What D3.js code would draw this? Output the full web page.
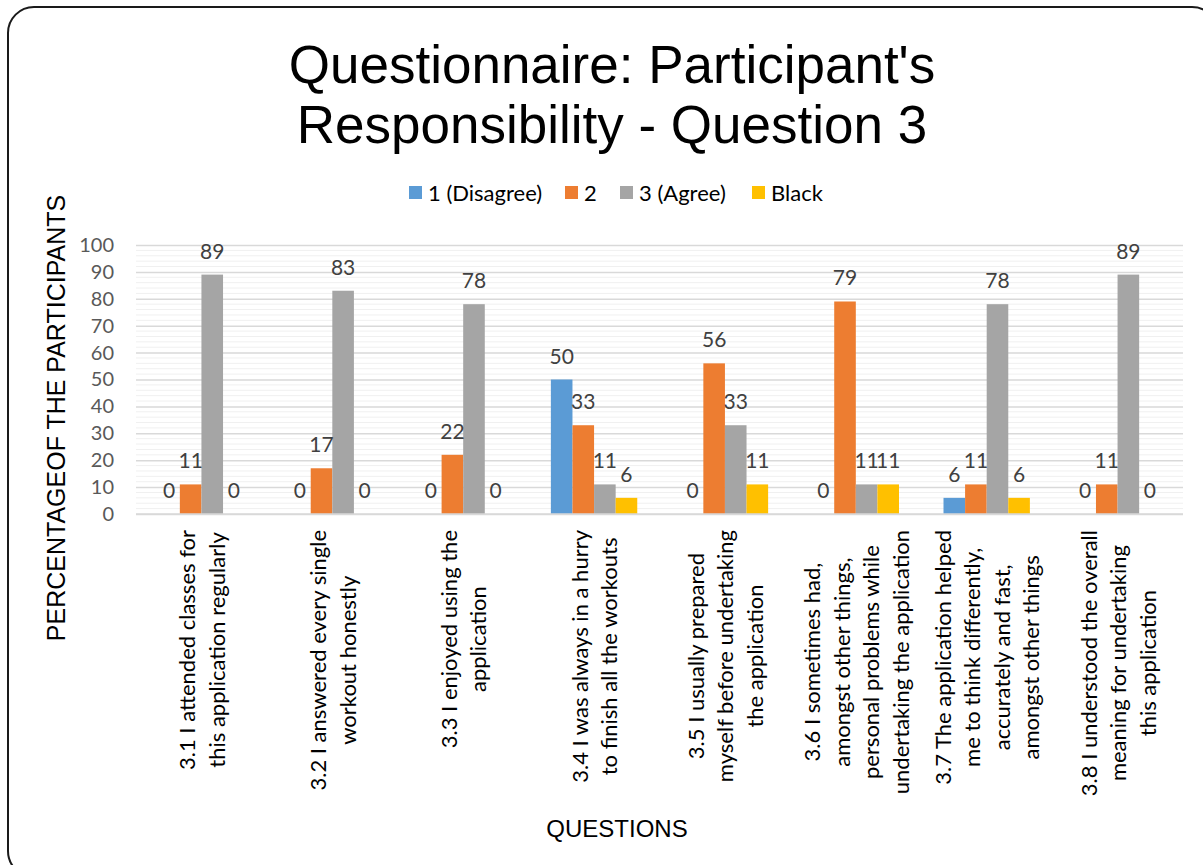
<!DOCTYPE html>
<html>
<head>
<meta charset="utf-8">
<script src="https://cdn.jsdelivr.net/npm/d3@7"></script>
<style>
  html, body { margin: 0; padding: 0; background: #ffffff; }
  svg { display: block; }
</style>
</head>
<body>
<svg id="chart" width="1203" height="865"></svg>
<script>
// ---- data ----
const categories = [
  ["3.1 I attended classes for", "this application regularly"],
  ["3.2 I answered every single", "workout honestly"],
  ["3.3 I enjoyed using the", "application"],
  ["3.4 I was always in a hurry", "to finish all the workouts"],
  ["3.5 I usually prepared", "myself before undertaking", "the application"],
  ["3.6 I sometimes had,", "amongst other things,", "personal problems while", "undertaking the application"],
  ["3.7 The application helped", "me to think differently,", "accurately and fast,", "amongst other things"],
  ["3.8 I understood the overall", "meaning for undertaking", "this application"]
];
const seriesNames = ["1 (Disagree)", "2", "3 (Agree)", "Black"];
const disagree = [0, 0, 0, 50, 0, 0, 6, 0];
const two      = [11, 17, 22, 33, 56, 79, 11, 11];
const agree    = [89, 83, 78, 11, 33, 11, 78, 89];
const black    = [0, 0, 0, 6, 11, 11, 6, 0];
const yTicks = [0, 10, 20, 30, 40, 50, 60, 70, 80, 90, 100];
const titleLines = ["Questionnaire: Participant's", "Responsibility - Question 3"];
const yTitle = "PERCENTAGEOF THE PARTICIPANTS";
const xTitle = "QUESTIONS";

const colors = ["#5b9bd5", "#ed7d31", "#a5a5a5", "#ffc000"];
const seriesValues = [disagree, two, agree, black];

const svg = d3.select("#chart");
const labelFont = "Lato, 'Open Sans', sans-serif";
const arialFont = "'Liberation Sans', Arial, sans-serif";

// outer border
svg.append("rect")
  .attr("x", 8).attr("y", 7).attr("width", 1210).attr("height", 870)
  .attr("rx", 26).attr("ry", 26)
  .attr("fill", "#ffffff").attr("stroke", "#1a1a1a").attr("stroke-width", 2);

// title
svg.append("g").selectAll("text").data(titleLines).join("text")
  .attr("x", 612).attr("y", (d, i) => 83 + i * 60)
  .attr("text-anchor", "middle")
  .attr("font-family", arialFont).attr("font-size", 53)
  .attr("fill", "#000000")
  .text(d => d);

// scales
const plotLeft = 136, plotRight = 1183;
const y = d3.scaleLinear().domain([0, 100]).range([514, 245]);
const x0 = d3.scaleBand().domain(d3.range(categories.length)).range([plotLeft, plotRight]).paddingInner(0.34).paddingOuter(0.17);
const x1 = d3.scaleBand().domain(d3.range(seriesNames.length)).range([0, x0.bandwidth()]);

// minor gridlines
const minor = d3.range(0, 101, 2).filter(v => v % 10 !== 0);
svg.append("g").selectAll("line").data(minor).join("line")
  .attr("x1", plotLeft).attr("x2", plotRight)
  .attr("y1", d => y(d)).attr("y2", d => y(d))
  .attr("stroke", "#f0f0f0").attr("stroke-width", 1);

// major gridlines via axis
const yAxisGrid = d3.axisLeft(y).tickValues(yTicks).tickSize(-(plotRight - plotLeft)).tickFormat("");
const gridG = svg.append("g").attr("transform", `translate(${plotLeft},0)`).call(yAxisGrid);
gridG.select(".domain").remove();
gridG.selectAll("line").attr("stroke", "#d9d9d9").attr("stroke-width", 1.5);

// y tick labels
const yAxis = d3.axisLeft(y).tickValues(yTicks).tickSize(0).tickPadding(0);
const yG = svg.append("g").attr("transform", `translate(114,0)`).call(yAxis);
yG.select(".domain").remove();
yG.selectAll("text").attr("font-family", labelFont).attr("font-size", 20).attr("fill", "#595959");

// bars
const groups = svg.append("g").selectAll("g").data(categories.map((c, i) => i)).join("g")
  .attr("transform", i => `translate(${x0(i)},0)`);
groups.selectAll("rect")
  .data(i => seriesValues.map((s, k) => ({k, v: s[i]})))
  .join("rect")
  .attr("x", d => x1(d.k)).attr("width", x1.bandwidth())
  .attr("y", d => y(d.v)).attr("height", d => y(0) - y(d.v))
  .attr("fill", d => colors[d.k]);

// baseline
svg.append("line").attr("x1", plotLeft).attr("x2", plotRight)
  .attr("y1", y(0)).attr("y2", y(0)).attr("stroke", "#d9d9d9").attr("stroke-width", 1.5);

// data labels
groups.selectAll("text.dl")
  .data(i => seriesValues.map((s, k) => ({k, v: s[i]})))
  .join("text").attr("class", "dl")
  .attr("x", d => x1(d.k) + x1.bandwidth() / 2)
  .attr("y", d => y(d.v) - 16)
  .attr("text-anchor", "middle")
  .attr("font-family", labelFont).attr("font-size", 21).attr("fill", "#404040")
  .text(d => d.v);

// x category labels (rotated, multi-line)
const lineGap = 29.5, labelTop = 530;
categories.forEach((lines, i) => {
  const cx = x0(i) + x0.bandwidth() / 2;
  const g = svg.append("g");
  const texts = g.selectAll("text").data(lines).join("text")
    .attr("font-family", labelFont).attr("font-size", 22).attr("fill", "#000000")
    .attr("text-anchor", "middle").attr("dominant-baseline", "central")
    .text(d => d);
  let maxLen = 0;
  texts.each(function() { maxLen = Math.max(maxLen, this.getComputedTextLength()); });
  const cy = labelTop + maxLen / 2;
  const n = lines.length;
  texts.attr("transform", (d, j) => `translate(${cx + (j - (n - 1) / 2) * lineGap},${cy}) rotate(-90)`);
});

// legend
const legendX = [409, 565, 620, 752];
const leg = svg.append("g").selectAll("g").data(seriesNames).join("g")
  .attr("transform", (d, i) => `translate(${legendX[i]},186)`);
leg.append("rect").attr("width", 13).attr("height", 13).attr("fill", (d, i) => colors[i]);
leg.append("text").attr("x", 19).attr("y", 6).attr("dominant-baseline", "central")
  .attr("font-family", labelFont).attr("font-size", 22).attr("fill", "#000000")
  .text(d => d);

// axis titles
svg.append("text")
  .attr("transform", "translate(56,418) rotate(-90)")
  .attr("text-anchor", "middle").attr("dominant-baseline", "central")
  .attr("font-family", arialFont).attr("font-size", 25).attr("fill", "#000000")
  .text(yTitle);
svg.append("text")
  .attr("x", 617).attr("y", 837)
  .attr("text-anchor", "middle")
  .attr("font-family", arialFont).attr("font-size", 24).attr("fill", "#000000")
  .text(xTitle);
</script>
</body>
</html>
